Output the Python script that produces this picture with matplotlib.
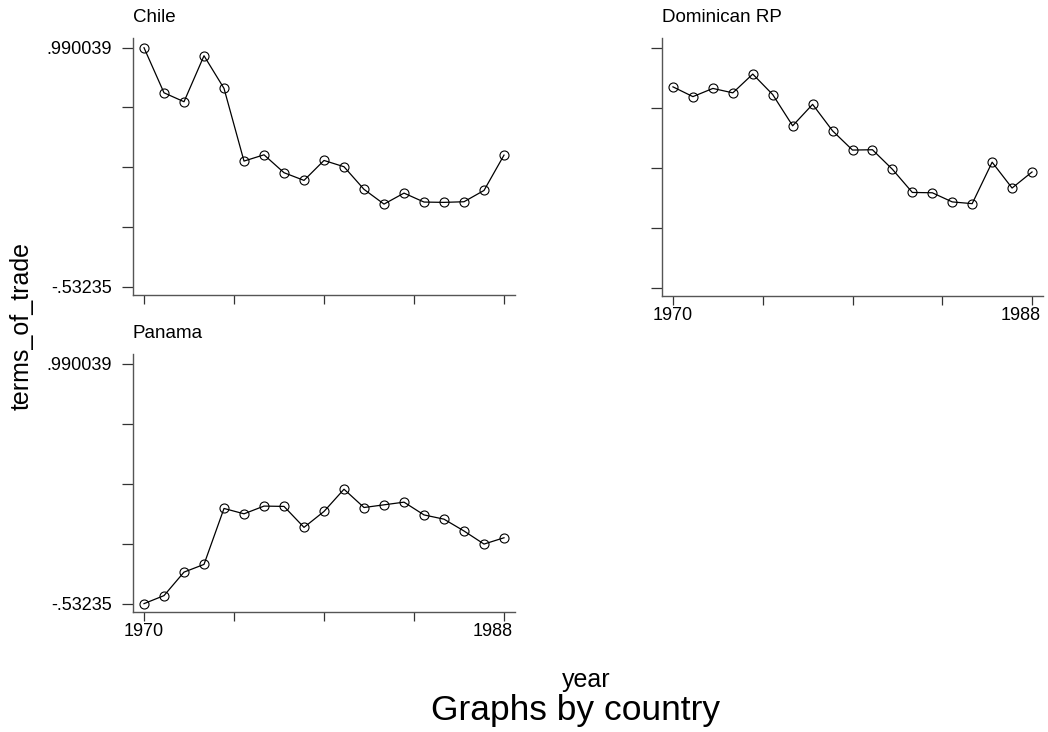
import matplotlib
matplotlib.use('Agg')
import matplotlib.pyplot as plt
from matplotlib.transforms import ScaledTranslation

plt.rcParams['font.family'] = ['Liberation Sans', 'DejaVu Sans']

years = list(range(1970, 1989))

chile = [0.990, 0.703, 0.646, 0.939, 0.731, 0.268, 0.308, 0.194, 0.145, 0.272,
         0.232, 0.088, -0.006, 0.064, 0.007, 0.005, 0.009, 0.081, 0.306]
dominican = [0.742, 0.680, 0.732, 0.704, 0.823, 0.693, 0.495, 0.631, 0.463, 0.341,
             0.343, 0.219, 0.072, 0.070, 0.012, 0.001, 0.264, 0.100, 0.202]
panama = [-0.532, -0.481, -0.332, -0.283, 0.072, 0.038, 0.087, 0.085, -0.048, 0.053,
          0.194, 0.078, 0.095, 0.112, 0.031, 0.004, -0.071, -0.154, -0.114]

ymin, ymax = -0.53235, 0.990039
yticks = [ymin + i * (ymax - ymin) / 4 for i in range(5)]
xticks = [1970 + i * 4.5 for i in range(5)]

fig = plt.figure(figsize=(10.48, 7.32), dpi=100)

W, H = 1048, 732
def box(l, t, r, b):
    return [l / W, 1 - b / H, (r - l) / W, (b - t) / H]

panels = [
    ('Chile', chile, box(133, 38, 515, 295), True, False),
    ('Dominican RP', dominican, box(662, 38, 1043, 296), False, True),
    ('Panama', panama, box(133, 354, 515, 612), True, True),
]

for name, vals, pos, ylab, xlab in panels:
    ax = fig.add_axes(pos)
    ax.plot(years, vals, color='black', lw=0.9, marker='o', ms=6.5,
            mfc='none', mec='black', mew=0.8)
    ax.set_xlim(1969.45, 1988.55)
    ax.set_ylim(-0.585, 1.052)
    ax.spines['top'].set_visible(False)
    ax.spines['right'].set_visible(False)
    for s in ('left', 'bottom'):
        ax.spines[s].set_color('#555555')
        ax.spines[s].set_linewidth(1.0)
    ax.set_xticks(xticks)
    ax.set_yticks(yticks)
    ax.tick_params(axis='x', length=6.5, width=0.9, color='#333333',
                   labelsize=13, pad=1.5)
    ax.tick_params(axis='y', length=8, width=0.9, color='#333333',
                   labelsize=13, pad=7)
    ax.set_xticklabels(['1970', '', '', '', '1988'] if xlab else [''] * 5)
    ax.set_yticklabels(['-.53235', '', '', '', '.990039'] if ylab else [''] * 5)
    # last year label sits a little left of its tick, as in the original
    last = ax.get_xticklabels()[-1]
    last.set_transform(last.get_transform()
                       + ScaledTranslation(-11 / 100, 0, fig.dpi_scale_trans))
    ax.text(0.0, 1.0 + 16.5 / (pos[3] * H), name, transform=ax.transAxes,
            fontsize=13.5, ha='left', va='baseline')

fig.text(22 / W, 1 - 326 / H, 'terms_of_trade', rotation=90, fontsize=18,
         ha='center', va='center')
fig.text(586 / W, 1 - 687 / H, 'year', fontsize=18, ha='center', va='baseline')
fig.text(576 / W, 1 - 720 / H, 'Graphs by country', fontsize=25.5,
         ha='center', va='baseline')

fig.savefig('out.png', dpi=100)
